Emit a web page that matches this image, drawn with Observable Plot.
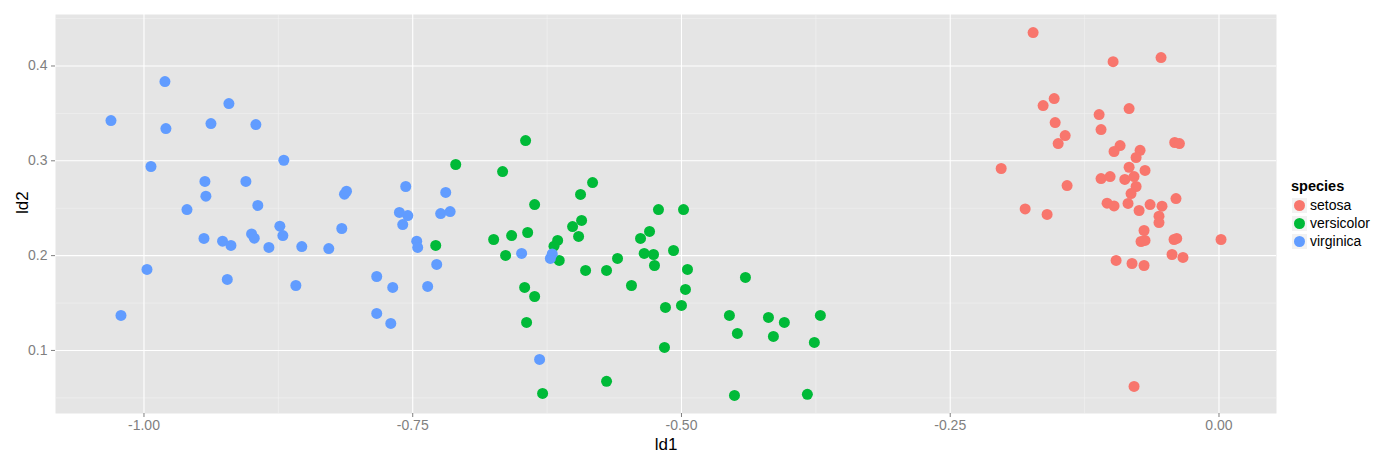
<!DOCTYPE html>
<html>
<head>
<meta charset="utf-8">
<script src="https://cdn.jsdelivr.net/npm/d3@7"></script>
<script src="https://cdn.jsdelivr.net/npm/@observablehq/plot@0.6"></script>
<style>
  body { margin: 0; background: #fff; font-family: "Liberation Sans", Arial, sans-serif; }
  #wrap { position: relative; width: 1400px; height: 460px; }
  #legend { position: absolute; left: 1291px; top: 177px; color: #000; }
  #legend .title { font-weight: bold; font-size: 14.5px; height: 19px; line-height: 19px; }
  #legend .item { display: flex; align-items: center; height: 18px; font-size: 14px; }
  #legend .key { width: 17px; height: 17px; background: #F2F2F2; border: 0.5px solid #fff; box-sizing: border-box; display: flex; align-items: center; justify-content: center; margin-right: 2px; }
  #legend .key span { width: 11px; height: 11px; border-radius: 50%; display: block; }
</style>
</head>
<body>
<div id="wrap"><div id="chart"></div><div id="legend"></div></div>
<script>
const species = ["setosa", "versicolor", "virginica"];
const colors = ["#F8766D", "#00BA38", "#619CFF"];

const setosaLd1 = [-0.1729, -0.0985, -0.0539, -0.1533, -0.1636, -0.0836, -0.1115, -0.1524, -0.1097, -0.1431,
  -0.1496, -0.0412, -0.0368, -0.0920, -0.0976, -0.0734, -0.0771, -0.2026, -0.0836, -0.0688,
  -0.1097, -0.1013, -0.0876, -0.0790, -0.1413, -0.0771, -0.0818, -0.0400, -0.1041, -0.0976,
  -0.0846, -0.0641, -0.0530, -0.1803, -0.1599, -0.0743, -0.0558, -0.0558, -0.0697, -0.0725,
  -0.0688, -0.0418, -0.0393, 0.0019, -0.0437, -0.0335, -0.0957, -0.0809, -0.0697, -0.0790];
const setosaLd2 = [0.4352, 0.4046, 0.4089, 0.3656, 0.3583, 0.3551, 0.3488, 0.3403, 0.3330, 0.3266,
  0.3182, 0.3193, 0.3182, 0.3161, 0.3098, 0.3111, 0.3035, 0.2919, 0.2932, 0.2898,
  0.2813, 0.2834, 0.2803, 0.2834, 0.2739, 0.2729, 0.2655, 0.2602, 0.2553, 0.2524,
  0.2550, 0.2539, 0.2521, 0.2492, 0.2434, 0.2476, 0.2416, 0.2349, 0.2265, 0.2149,
  0.2160, 0.2170, 0.2181, 0.2170, 0.2012, 0.1981, 0.1949, 0.1917, 0.1896, 0.0621];

const versicolorLd1 = [-0.7100, -0.6664, -0.6366, -0.6431, -0.6580, -0.6747, -0.7286, -0.6636, -0.6459, -0.6366,
  -0.6441, -0.6450, -0.5827, -0.5939, -0.5214, -0.4981, -0.5929, -0.6013, -0.5957, -0.6152,
  -0.6186, -0.5297, -0.5381, -0.6137, -0.5595, -0.5892, -0.5697, -0.5347, -0.5260, -0.5251,
  -0.5074, -0.4944, -0.5465, -0.4963, -0.5149, -0.5000, -0.5158, -0.5697, -0.6292, -0.4405,
  -0.4554, -0.4191, -0.4043, -0.3708, -0.4480, -0.4145, -0.3764, -0.4507, -0.3829];
const versicolorLd2 = [0.2961, 0.2887, 0.2539, 0.2244, 0.2212, 0.2170, 0.2107, 0.2002, 0.1664, 0.1569,
  0.1295, 0.3214, 0.2771, 0.2645, 0.2486, 0.2486, 0.2371, 0.2307, 0.2202, 0.2160,
  0.2100, 0.2255, 0.2181, 0.1949, 0.1970, 0.1844, 0.1844, 0.2023, 0.2012, 0.1896,
  0.2054, 0.1854, 0.1685, 0.1643, 0.1454, 0.1475, 0.1032, 0.0674, 0.0547, 0.1770,
  0.1369, 0.1348, 0.1295, 0.1369, 0.1179, 0.1148, 0.1085, 0.0526, 0.0537];

const virginicaLd1 = [-0.9805, -0.9210, -1.0307, -0.9796, -0.9377, -0.8959, -0.8699, -0.9935, -0.9433, -0.9052,
  -0.9424, -0.9600, -0.8941, -0.8736, -0.8708, -0.8999, -0.8974, -0.9442, -0.9269, -0.9191,
  -0.8838, -0.8532, -0.8281, -0.9972, -0.9225, -0.8587, -1.0214, -0.8135, -0.8116, -0.7565,
  -0.7193, -0.7624, -0.7546, -0.7593, -0.7240, -0.7152, -0.8160, -0.7463, -0.7454, -0.7277,
  -0.7835, -0.7686, -0.7361, -0.7835, -0.7704, -0.6487, -0.6202, -0.6220, -0.6320];
const virginicaLd2 = [0.3836, 0.3604, 0.3424, 0.3340, 0.3393, 0.3382, 0.3006, 0.2940, 0.2782, 0.2782,
  0.2627, 0.2486, 0.2529, 0.2310, 0.2212, 0.2229, 0.2184, 0.2181, 0.2152, 0.2107,
  0.2086, 0.2096, 0.2075, 0.1854, 0.1749, 0.1685, 0.1369, 0.2648, 0.2679, 0.2729,
  0.2666, 0.2455, 0.2423, 0.2328, 0.2444, 0.2465, 0.2286, 0.2152, 0.2086, 0.1907,
  0.1780, 0.1664, 0.1675, 0.1390, 0.1285, 0.2023, 0.2018, 0.1970, 0.0905];

const xMajor = [-1.00, -0.75, -0.50, -0.25, 0.00];
const xMinor = [-0.875, -0.625, -0.375, -0.125];
const yMajor = [0.1, 0.2, 0.3, 0.4];
const yMinor = [0.05, 0.15, 0.25, 0.35, 0.45];
const xLabel = "ld1";
const yLabel = "ld2";
const legendTitle = "species";

const ld1 = [setosaLd1, versicolorLd1, virginicaLd1];
const ld2 = [setosaLd2, versicolorLd2, virginicaLd2];
const rows = [];
species.forEach((s, k) => ld1[k].forEach((v, i) => rows.push({species: s, ld1: v, ld2: ld2[k][i]})));

const chart = Plot.plot({
  width: 1400,
  height: 460,
  marginLeft: 55,
  marginRight: 124,
  marginTop: 14,
  marginBottom: 47,
  x: {domain: [-1.0823, 0.0535]},
  y: {domain: [0.0335, 0.4543]},
  color: {domain: species, range: colors},
  style: {fontFamily: "'Liberation Sans', Arial, sans-serif", background: "#fff", overflow: "visible"},
  marks: [
    Plot.frame({fill: "#E5E5E5", stroke: null}),
    Plot.ruleX(xMinor, {stroke: "#F2F2F2", strokeWidth: 0.6}),
    Plot.ruleY(yMinor, {stroke: "#F2F2F2", strokeWidth: 0.6}),
    Plot.ruleX(xMajor, {stroke: "#FFFFFF", strokeWidth: 1.1}),
    Plot.ruleY(yMajor, {stroke: "#FFFFFF", strokeWidth: 1.1}),
    Plot.dot(rows, {x: "ld1", y: "ld2", fill: "species", r: 5.5, stroke: null}),
    Plot.axisX(xMajor, {tickFormat: d => d.toFixed(2), tickSize: 4, tickPadding: 3, color: "#7F7F7F", fontSize: 14, label: null}),
    Plot.axisY(yMajor, {tickFormat: d => d.toFixed(1), tickSize: 4, tickPadding: 4, color: "#7F7F7F", fontSize: 14, label: null}),
    Plot.text([xLabel], {frameAnchor: "bottom", text: d => d, dy: 36, fontSize: 17, fill: "#000"}),
    Plot.text([yLabel], {frameAnchor: "left", text: d => d, rotate: -90, dx: -32.5, fontSize: 17, fill: "#000"})
  ]
});
document.getElementById("chart").appendChild(chart);

const legend = document.getElementById("legend");
const t = document.createElement("div");
t.className = "title";
t.textContent = legendTitle;
legend.appendChild(t);
species.forEach((s, k) => {
  const item = document.createElement("div");
  item.className = "item";
  const key = document.createElement("div");
  key.className = "key";
  const dot = document.createElement("span");
  dot.style.background = colors[k];
  key.appendChild(dot);
  const lab = document.createElement("div");
  lab.textContent = s;
  item.appendChild(key);
  item.appendChild(lab);
  legend.appendChild(item);
});
</script>
</body>
</html>
